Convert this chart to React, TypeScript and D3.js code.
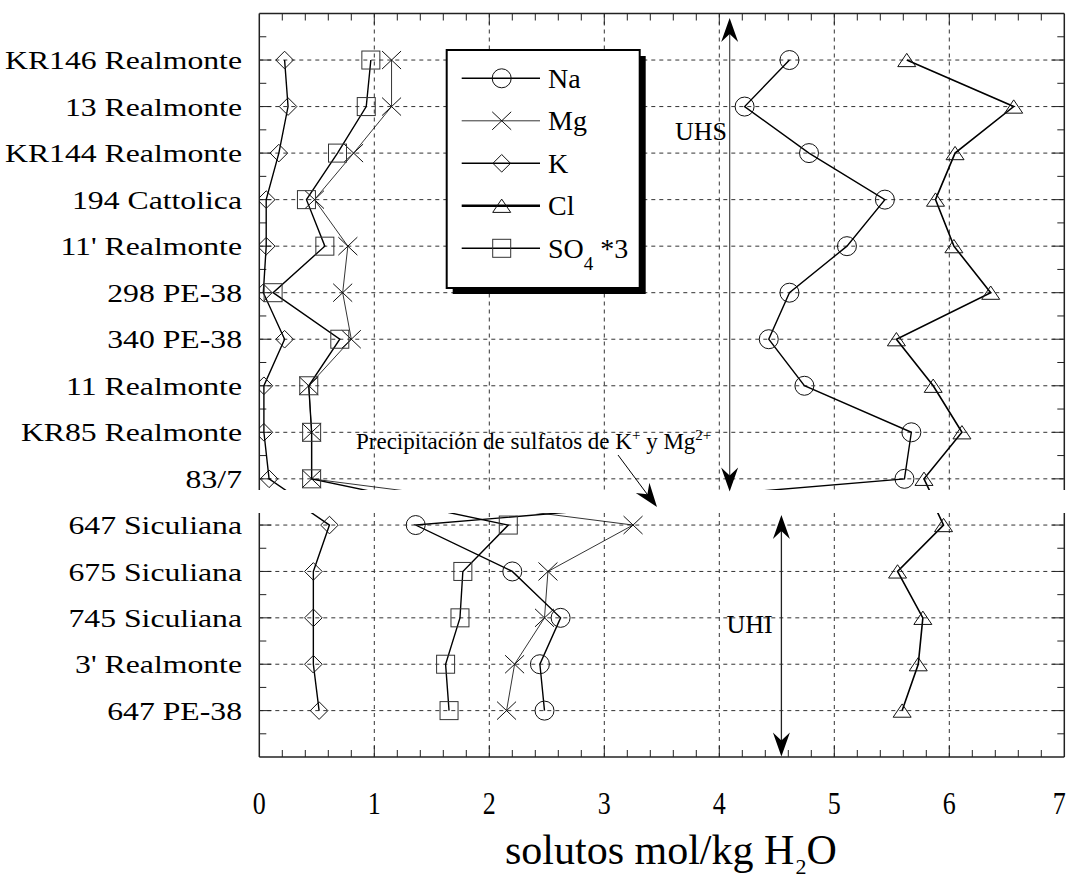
import React from "react";
import * as d3 from "d3";

// Sample names, top of the column to bottom
const samples = [
  "KR146 Realmonte", "13 Realmonte", "KR144 Realmonte", "194 Cattolica", "11' Realmonte",
  "298 PE-38", "340 PE-38", "11 Realmonte", "KR85 Realmonte", "83/7",
  "647 Siculiana", "675 Siculiana", "745 Siculiana", "3' Realmonte", "647 PE-38",
];
// number of samples in the upper (UHS) block
const upperCount = 10;

// solute concentrations, mol/kg H2O
const na = [4.61, 4.22, 4.78, 5.44, 5.11, 4.61, 4.43, 4.74, 5.67, 5.61, 1.36, 2.2, 2.62, 2.44, 2.48];
const mg = [1.15, 1.15, 0.82, 0.48, 0.77, 0.725, 0.8, 0.43, 0.455, 0.455, 3.25, 2.51, 2.48, 2.22, 2.15];
const k = [0.22, 0.25, 0.17, 0.06, 0.06, 0.035, 0.22, 0.04, 0.04, 0.085, 0.61, 0.47, 0.47, 0.47, 0.52];
const cl = [5.63, 6.56, 6.05, 5.88, 6.04, 6.36, 5.54, 5.86, 6.11, 5.78, 5.95, 5.55, 5.77, 5.73, 5.59];
const so4x3 = [0.97, 0.93, 0.68, 0.41, 0.57, 0.12, 0.7, 0.43, 0.455, 0.455, 2.165, 1.77, 1.745, 1.62, 1.65];

const xTicks = [0, 1, 2, 3, 4, 5, 6, 7];

type Shape = "circle" | "cross" | "diamond" | "triangle" | "square";
const seriesList: { name: string; values: number[]; shape: Shape; width: number; legendWidth: number }[] = [
  { name: "Na", values: na, shape: "circle", width: 1.4, legendWidth: 1.5 },
  { name: "Mg", values: mg, shape: "cross", width: 0.8, legendWidth: 0.8 },
  { name: "K", values: k, shape: "diamond", width: 1.4, legendWidth: 1.6 },
  { name: "Cl", values: cl, shape: "triangle", width: 1.6, legendWidth: 2.4 },
  { name: "SO4", values: so4x3, shape: "square", width: 1.4, legendWidth: 1.6 },
];

const FONT = "'Liberation Serif', 'Times New Roman', serif";

// gap (in row units) removed between the two blocks of the broken axis
const breakGap = 0.11;
const rowPos = (i: number) => (i < upperCount ? i + 1 : i + 1 - breakGap);

const x = d3.scaleLinear().domain([0, 7]).range([259.3, 1064.3]);
const yTop = d3.scaleLinear().domain([0, 10.24]).range([13.5, 490]);
const yBot = d3.scaleLinear().domain([10.63, 15.89]).range([513, 757]);

const left = x(0);
const right = x(7);

function Marker({ shape, cx, cy }: { shape: Shape; cx: number; cy: number }) {
  const common = { fill: "none", stroke: "#111", strokeWidth: 1 };
  switch (shape) {
    case "circle":
      return <circle cx={cx} cy={cy} r={9.5} {...common} />;
    case "cross":
      return (
        <path d={`M${cx - 9.5},${cy - 9}L${cx + 9.5},${cy + 9}M${cx - 9.5},${cy + 9}L${cx + 9.5},${cy - 9}`} {...common} />
      );
    case "diamond":
      return <path d={`M${cx},${cy - 8.8}L${cx + 8.8},${cy}L${cx},${cy + 8.8}L${cx - 8.8},${cy}Z`} {...common} />;
    case "triangle":
      return <path d={`M${cx},${cy - 6.7}L${cx + 9},${cy + 6.6}L${cx - 9},${cy + 6.6}Z`} {...common} />;
    case "square":
      return <rect x={cx - 9} y={cy - 9} width={18} height={18} {...common} stroke="#333" />;
  }
}

function arrowHead(tipX: number, tipY: number, fromX: number, fromY: number, len = 24, half = 8.5, notch = 8) {
  const dx = tipX - fromX;
  const dy = tipY - fromY;
  const d = Math.hypot(dx, dy);
  const ux = dx / d, uy = dy / d;
  const px = -uy, py = ux;
  const bx = tipX - ux * len, by = tipY - uy * len;
  const nx = tipX - ux * (len - notch), ny = tipY - uy * (len - notch);
  return `M${tipX},${tipY}L${bx + px * half},${by + py * half}L${nx},${ny}L${bx - px * half},${by - py * half}Z`;
}

function Panel({ y, top, bottom, rows, clipId, side }: {
  y: d3.ScaleLinear<number, number>; top: number; bottom: number; rows: number[]; clipId: string; side: "top" | "bottom";
}) {
  const minorX = d3.range(0, 7.0001, 0.2).filter((v) => Math.abs(v - Math.round(v)) > 1e-6);
  const rowYs = rows.map((i) => y(rowPos(i)));
  const halfYs = rows
    .flatMap((i) => [rowPos(i) - 0.5, rowPos(i) + 0.5])
    .filter((p, idx, arr) => arr.findIndex((q) => Math.abs(q - p) < 1e-6) === idx)
    .map((p) => y(p))
    .filter((py) => py > top + 1 && py < bottom - 1);
  const edgeY = side === "top" ? top : bottom;
  const dir = side === "top" ? 1 : -1;
  const line = d3
    .line<number>()
    .x((v) => x(v))
    .y((_, i) => y(rowPos(i)));

  return (
    <g>
      <defs>
        <clipPath id={clipId}>
          <rect x={left} y={top} width={right - left} height={bottom - top} />
        </clipPath>
      </defs>
      {/* dashed grid */}
      <g stroke="#333" strokeWidth={1} strokeDasharray="4 4">
        {xTicks.slice(1, -1).map((t) => (
          <line key={t} x1={x(t)} x2={x(t)} y1={top} y2={bottom} />
        ))}
        {rowYs.map((ry, i) => (
          <line key={i} x1={left} x2={right} y1={ry} y2={ry} />
        ))}
      </g>
      {/* frame */}
      <g stroke="#222" strokeWidth={1.5} fill="none">
        <line x1={left} x2={left} y1={top} y2={bottom} />
        <line x1={right} x2={right} y1={top} y2={bottom} />
        <line x1={left} x2={right} y1={edgeY} y2={edgeY} />
      </g>
      {/* ticks */}
      <g stroke="#222" strokeWidth={1}>
        {minorX.map((t) => (
          <line key={"mx" + t} x1={x(t)} x2={x(t)} y1={edgeY} y2={edgeY + dir * 7} />
        ))}
        {xTicks.slice(1, -1).map((t) => (
          <line key={"Mx" + t} x1={x(t)} x2={x(t)} y1={edgeY} y2={edgeY + dir * 11} />
        ))}
        {halfYs.map((hy, i) => (
          <g key={"my" + i}>
            <line x1={left} x2={left + 7} y1={hy} y2={hy} />
            <line x1={right} x2={right - 7} y1={hy} y2={hy} />
          </g>
        ))}
        {rowYs.map((ry, i) => (
          <g key={"My" + i}>
            <line x1={left} x2={left + 12} y1={ry} y2={ry} />
            <line x1={right} x2={right - 12} y1={ry} y2={ry} />
          </g>
        ))}
      </g>
      {/* series */}
      <g clipPath={`url(#${clipId})`}>
        {seriesList.map((s) => (
          <path key={s.name} d={line(s.values) ?? ""} fill="none" stroke="#000" strokeWidth={s.width} strokeLinejoin="miter" />
        ))}
        {seriesList.map((s) =>
          s.values.map((v, i) => <Marker key={s.name + i} shape={s.shape} cx={x(v)} cy={y(rowPos(i))} />)
        )}
      </g>
      {/* sample names */}
      {rows.map((i) => (
        <g key={"lab" + i} transform={`translate(242,${y(rowPos(i))}) scale(1.22,1)`}>
          <text x={0} y={0} dy="0.35em" textAnchor="end" fontSize={26} fontFamily={FONT} fill="#000">
            {samples[i]}
          </text>
        </g>
      ))}
    </g>
  );
}

function Legend() {
  const x0 = 446.7, y0 = 50, w = 193, h = 238;
  const rowY = (i: number) => 78.3 + i * 42.5;
  return (
    <g>
      <rect x={x0 + 6} y={y0 + 6} width={w} height={h} fill="#000" />
      <rect x={x0} y={y0} width={w} height={h} fill="#fff" stroke="#000" strokeWidth={2} />
      {seriesList.map((s, i) => (
        <g key={s.name}>
          <line x1={461.7} x2={540} y1={rowY(i)} y2={rowY(i)} stroke="#000" strokeWidth={s.legendWidth} />
          <Marker shape={s.shape} cx={501.7} cy={rowY(i)} />
          <text x={548} y={rowY(i) + 9.5} fontSize={28} fontFamily={FONT} fill="#000">
            {s.name === "SO4" ? (
              <>
                SO<tspan dy={12} fontSize={19}>4</tspan>
                <tspan dy={-12}> *3</tspan>
              </>
            ) : (
              s.name
            )}
          </text>
        </g>
      ))}
    </g>
  );
}

export default function App() {
  const upperRows = d3.range(0, upperCount);
  const lowerRows = d3.range(upperCount, samples.length);
  const uhsX = x(4.09);
  const uhiX = x(4.54);
  return (
    <svg width={1076} height={880} style={{ position: "absolute", left: 0, top: 0, background: "#fff" }}>
      <rect width={1076} height={880} fill="#fff" />
      <Panel y={yTop} top={13.5} bottom={490} rows={upperRows} clipId="clip-top" side="top" />
      <Panel y={yBot} top={513} bottom={757} rows={lowerRows} clipId="clip-bot" side="bottom" />

      {/* UHS range arrow */}
      <line x1={uhsX} x2={uhsX} y1={30} y2={478} stroke="#555" strokeWidth={1.3} />
      <path d={arrowHead(uhsX, 18, uhsX, 60)} fill="#000" />
      <path d={arrowHead(uhsX, 491.5, uhsX, 450)} fill="#000" />
      <text x={727} y={140} textAnchor="end" fontSize={26} fontFamily={FONT}>UHS</text>

      {/* UHI range arrow */}
      <line x1={uhiX} x2={uhiX} y1={528} y2={745} stroke="#222" strokeWidth={1.3} />
      <path d={arrowHead(uhiX, 515, uhiX, 560)} fill="#000" />
      <path d={arrowHead(uhiX, 756.5, uhiX, 700)} fill="#000" />
      <text x={726.5} y={632.5} fontSize={26} fontFamily={FONT}>UHI</text>

      {/* sulfate precipitation note */}
      <text x={356} y={449} fontSize={23} fontFamily={FONT}>
        Precipitación de sulfatos de K<tspan dy={-9} fontSize={15}>+</tspan>
        <tspan dy={9}> y Mg</tspan>
        <tspan dy={-9} fontSize={15}>2+</tspan>
      </text>
      <line x1={618} y1={455} x2={650} y2={498} stroke="#000" strokeWidth={1} />
      <path d={arrowHead(657, 507, 618, 455, 24, 8.5, 8)} fill="#000" />

      <Legend />

      {/* x axis labels */}
      {xTicks.map((t) => (
        <g key={t} transform={`translate(${x(t) - (t === 7 ? 5 : 0)},814) scale(1,1.25)`}>
          <text x={0} y={0} textAnchor="middle" fontSize={26} fontFamily={FONT}>
            {t}
          </text>
        </g>
      ))}
      <text x={505} y={864} fontSize={42} fontFamily={FONT}>
        solutos mol/kg H<tspan dy={10} dx={1} fontSize={22}>2</tspan>
        <tspan dy={-10} dx={0}>O</tspan>
      </text>
    </svg>
  );
}
